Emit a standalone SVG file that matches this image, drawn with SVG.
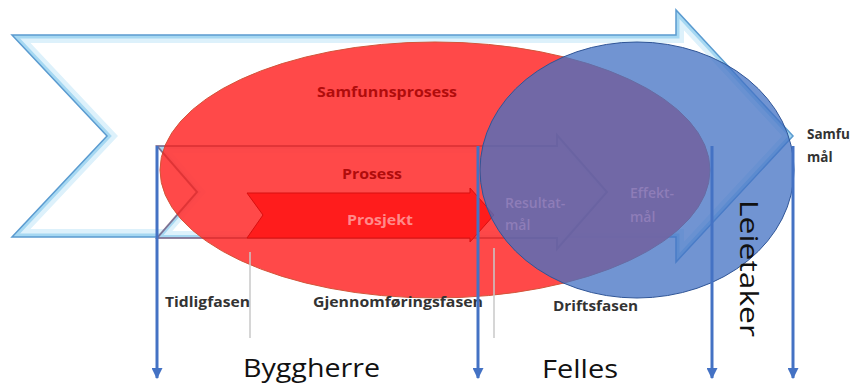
<svg xmlns="http://www.w3.org/2000/svg" width="860" height="389" viewBox="0 0 860 389">
<defs>
<style>
.lbl{font-family:"Open Sans","Liberation Sans",sans-serif;}
.phase{font-family:"Open Sans","Liberation Sans",sans-serif;font-size:13.5px;font-weight:700;fill:#333333;}
.big{font-family:"Open Sans","Liberation Sans",sans-serif;font-size:25px;fill:#111111;}
.conn{stroke:#4472C4;stroke-width:3;fill:none;}
.sep{stroke:#C8C8C8;stroke-width:1.5;}
</style>
<marker id="ah" viewBox="0 0 10 10" refX="9" refY="5" markerWidth="11" markerHeight="11" markerUnits="userSpaceOnUse" orient="auto">
<path d="M0,0 L10,5 L0,10 Z" fill="#4472C4"/>
</marker>
<path id="bigShape" d="M12,35 L676,35 L676,10 L793,136 L676,262 L676,237 L12,237 L107,136 Z"/>
<path id="prosShape" d="M157,146 L557,146 L557,135 L607,192 L557,249 L557,238 L157,238 L197,192 Z"/>
<clipPath id="cBig"><use href="#bigShape"/></clipPath>
<clipPath id="cPros"><use href="#prosShape"/></clipPath>
</defs>
<rect width="860" height="389" fill="#FFFFFF"/>

<g id="samfunn-arrow">
<use href="#bigShape" fill="#FFFFFF"/>
<use href="#bigShape" fill="none" stroke="#DDF1FB" stroke-width="16" clip-path="url(#cBig)"/>
<use href="#bigShape" fill="none" stroke="#A6D8F2" stroke-width="7" clip-path="url(#cBig)"/>
<use href="#bigShape" fill="none" stroke="#5B9BD0" stroke-width="1.5"/>
</g>

<g id="prosess-arrow">
<use href="#prosShape" fill="#FFFFFF"/>
<use href="#prosShape" fill="none" stroke="#DDF1FB" stroke-width="14" clip-path="url(#cPros)"/>
<use href="#prosShape" fill="none" stroke="#A6D8F2" stroke-width="6" clip-path="url(#cPros)"/>
<use href="#prosShape" fill="none" stroke="#5B9BD0" stroke-width="1.5"/>
</g>

<g id="samfunnsprosess">
<ellipse cx="435" cy="170" rx="275" ry="128" fill="#FF3B3B" fill-opacity="0.93" stroke="#D2553A" stroke-width="1"/>
<use href="#prosShape" fill="none" stroke="#B41414" stroke-opacity="0.3" stroke-width="2"/>
<text class="lbl" x="387" y="97" text-anchor="middle" font-size="14" font-weight="700" fill="#B00C0C" textLength="140" lengthAdjust="spacingAndGlyphs">Samfunnsprosess</text>
<text class="lbl" x="372" y="179" text-anchor="middle" font-size="14" font-weight="700" fill="#B00C0C" textLength="60" lengthAdjust="spacingAndGlyphs">Prosess</text>
</g>

<g id="prosjekt">
<path d="M247,193 L470,193 L470,188 L494,215 L470,242 L470,238 L247,238 L263,215 Z" fill="#FF1C1C" stroke="#D81010" stroke-width="1"/>
<text class="lbl" x="380" y="225" text-anchor="middle" font-size="14" font-weight="700" fill="#FF8A8A" textLength="66" lengthAdjust="spacingAndGlyphs">Prosjekt</text>
</g>

<g id="leietaker-ellipse">
<ellipse cx="637" cy="170" rx="157" ry="128" fill="#4472C4" fill-opacity="0.76" stroke="#2F5597" stroke-width="1"/>
<text class="lbl" font-size="14" font-weight="600" fill="#8E7DB8"><tspan x="505" y="208">Resultat-</tspan><tspan x="505" y="230">mål</tspan></text>
<text class="lbl" font-size="14" font-weight="600" fill="#8E7DB8"><tspan x="630" y="198">Effekt-</tspan><tspan x="630" y="222">mål</tspan></text>
</g>

<g id="samfunnsmaal">
<text class="phase" fill="#222222"><tspan x="807" y="139">Samfu</tspan><tspan x="807" y="162">mål</tspan></text>
</g>

<g id="phases">
<line class="sep" x1="250" y1="252" x2="250" y2="338"/>
<line class="sep" x1="494" y1="248" x2="494" y2="338"/>
<text class="phase" x="165" y="307" textLength="85" lengthAdjust="spacingAndGlyphs">Tidligfasen</text>
<text class="phase" x="313" y="307" textLength="170" lengthAdjust="spacingAndGlyphs">Gjennomføringsfasen</text>
<text class="phase" x="553" y="311" textLength="85" lengthAdjust="spacingAndGlyphs">Driftsfasen</text>
</g>

<g id="connectors">
<line class="conn" x1="157" y1="146" x2="157" y2="378" marker-end="url(#ah)"/>
<line class="conn" x1="478" y1="146" x2="478" y2="378" marker-end="url(#ah)"/>
<line class="conn" x1="712" y1="146" x2="712" y2="378" marker-end="url(#ah)"/>
<line class="conn" x1="793" y1="146" x2="793" y2="378" marker-end="url(#ah)"/>
</g>

<g id="byggherre"><text class="big" x="243" y="377" textLength="137" lengthAdjust="spacingAndGlyphs">Byggherre</text></g>
<g id="felles"><text class="big" x="542" y="378" textLength="76" lengthAdjust="spacingAndGlyphs">Felles</text></g>
<g id="leietaker"><text class="big" font-size="27" transform="translate(740,200) rotate(90)" x="0" y="0" textLength="137" lengthAdjust="spacingAndGlyphs">Leietaker</text></g>
</svg>
